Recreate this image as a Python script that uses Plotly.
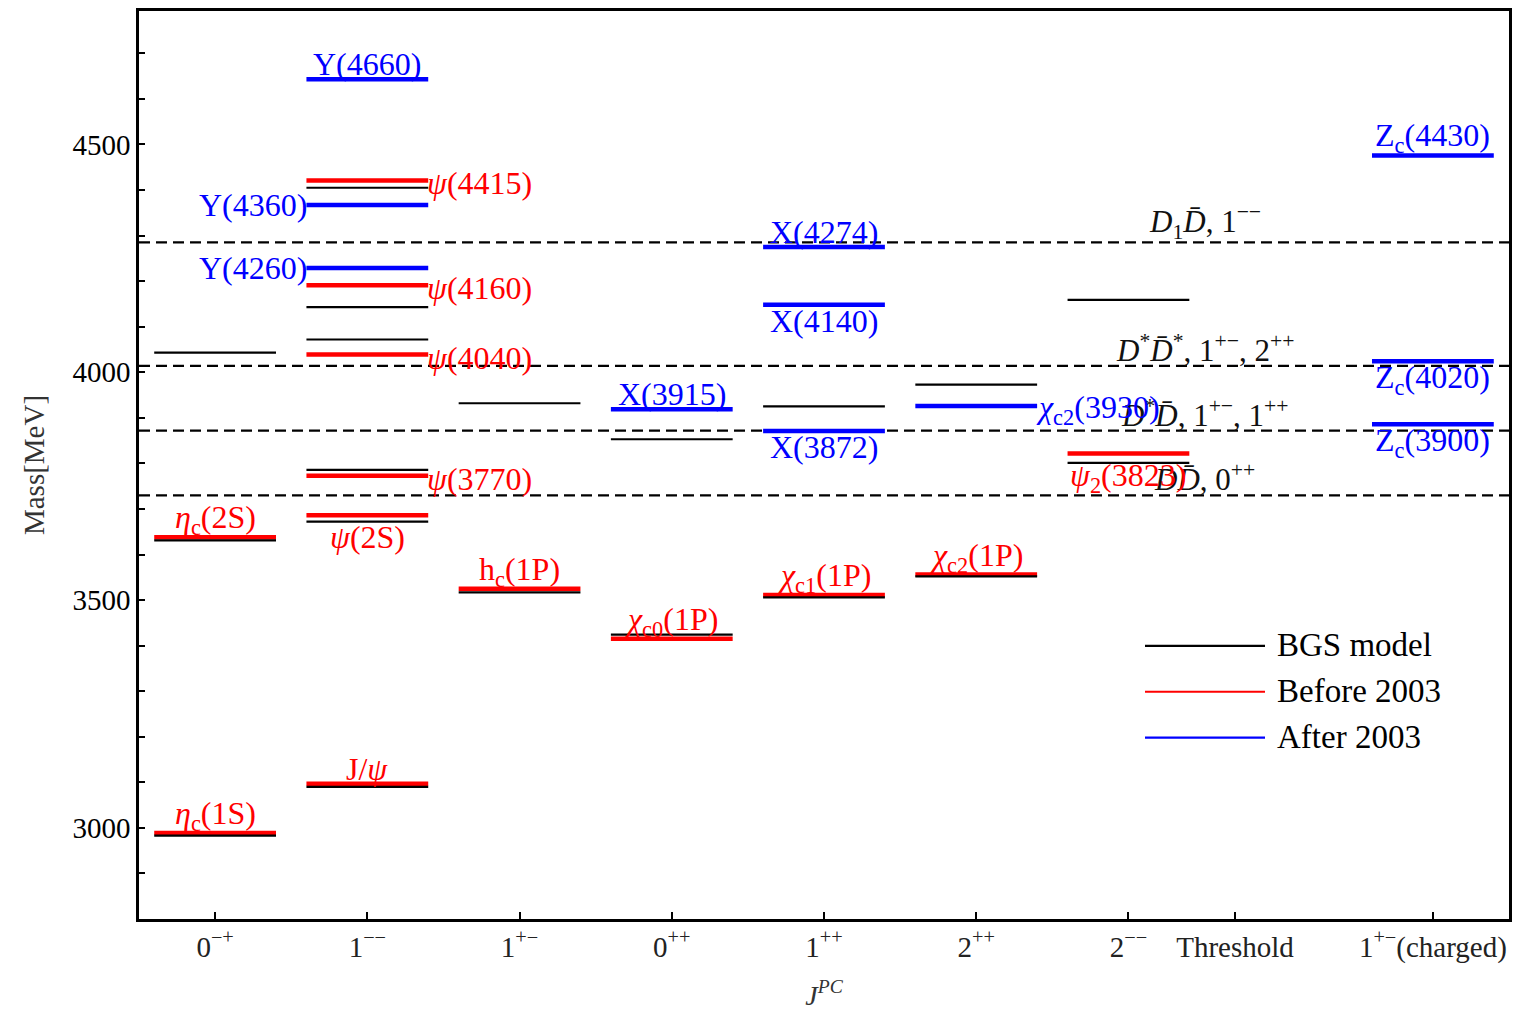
import plotly.graph_objects as go

# ---------------- data ----------------
tick_pos = [1, 2, 3, 4, 5, 6, 7, 7.7, 9]
tick_text = ["0<sup>−+</sup>", "1<sup>−−</sup>", "1<sup>+−</sup>", "0<sup>++</sup>", "1<sup>++</sup>",
             "2<sup>++</sup>", "2<sup>−−</sup>", "Threshold", "1<sup>+−</sup>(charged)"]

# BGS model (black)
bgs_x = [1, 1, 1, 2, 2, 2, 2, 2, 2, 3, 3, 4, 4, 5, 5, 6, 6, 7, 7]
bgs_m = [2983, 3631, 4043, 3090, 3672, 3786, 4072, 4143, 4405, 3517, 3932, 3424, 3853, 3506, 3925,
         3552, 3973, 3801, 4159]

# Before 2003 (red)
red_x = [1, 1, 2, 2, 2, 2, 2, 2, 3, 4, 5, 6, 7]
red_m = [2989, 3638, 3097, 3686, 3773, 4039, 4191, 4421, 3525, 3415, 3511, 3556, 3822]
red_lab = ["<i>η</i><sub>c</sub>(1S)", "<i>η</i><sub>c</sub>(2S)", "J/<i>ψ</i>", "<i>ψ</i>(2S)",
           "<i>ψ</i>(3770)", "<i>ψ</i>(4040)", "<i>ψ</i>(4160)", "<i>ψ</i>(4415)", "h<sub>c</sub>(1P)",
           "<i>χ</i><sub>c0</sub>(1P)", "<i>χ</i><sub>c1</sub>(1P)", "<i>χ</i><sub>c2</sub>(1P)",
           "<i>ψ</i><sub>2</sub>(3823)"]
red_pos = ["above", "above", "above", "below2", "right", "right", "right", "right", "above",
           "above", "above", "above", "below2"]

# After 2003 (blue)
blue_x = [2, 2, 2, 4, 5, 5, 5, 6, 9, 9, 9]
blue_m = [4643, 4367, 4229, 3919, 4275, 4148, 3871, 3926, 4476, 4024, 3886]
blue_lab = ["Y(4660)", "Y(4360)", "Y(4260)", "X(3915)", "X(4274)", "X(4140)", "X(3872)",
            "<i>χ</i><sub>c2</sub>(3930)", "Z<sub>c</sub>(4430)", "Z<sub>c</sub>(4020)", "Z<sub>c</sub>(3900)"]
blue_pos = ["above", "left", "left", "above", "above", "below", "below", "right", "above", "below", "below"]

# Thresholds (dashed)
thr_m = [3730, 3872, 4014, 4285]
thr_lab = ["<i>D</i><i>D̄</i>, 0<sup>++</sup>",
           "<i>D</i><sup>*</sup><i>D̄</i>, 1<sup>+−</sup>, 1<sup>++</sup>",
           "<i>D</i><sup>*</sup><i>D̄</i><sup>*</sup>, 1<sup>+−</sup>, 2<sup>++</sup>",
           "<i>D</i><sub>1</sub><i>D̄</i>, 1<sup>−−</sup>"]
thr_label_x = 7.5

legend_names = ["BGS model", "Before 2003", "After 2003"]
y_range = [2800, 4793]

# ---------------- style ----------------
FONT = "Liberation Serif"
HALF = 0.4
RED = "#ff0000"
BLUE = "#0000ff"
BLACK = "#000000"
LBL = 32


def segs(xs, ms):
    X, Y = [], []
    for c, m in zip(xs, ms):
        X += [c - HALF, c + HALF, None]
        Y += [m, m, None]
    return X, Y


fig = go.Figure()
for xs, ms, col, w, name in [(red_x, red_m, RED, 4.5, legend_names[1]),
                             (blue_x, blue_m, BLUE, 4.5, legend_names[2]),
                             (bgs_x, bgs_m, BLACK, 2.2, legend_names[0])]:
    X, Y = segs(xs, ms)
    fig.add_trace(go.Scatter(x=X, y=Y, mode="lines", line=dict(color=col, width=w),
                             name=name, showlegend=False, hoverinfo="skip"))

# thresholds
for m, lab in zip(thr_m, thr_lab):
    fig.add_shape(type="line", xref="paper", x0=0, x1=1, yref="y", y0=m, y1=m,
                  line=dict(color=BLACK, width=2.2, dash="11px,6px"), layer="below")
    fig.add_annotation(x=thr_label_x, y=m, text=lab, showarrow=False, xanchor="center",
                       yanchor="bottom", yshift=-4, font=dict(family=FONT, size=31, color="#111"))


def add_labels(xs, ms, labs, poss, col):
    for c, m, lab, p in zip(xs, ms, labs, poss):
        kw = dict(x=c, y=m, text=lab, showarrow=False,
                  font=dict(family=FONT, size=LBL, color=col))
        if p == "above":
            kw.update(xanchor="center", yanchor="bottom", yshift=-5)
        elif p == "below":
            kw.update(xanchor="center", yanchor="top", yshift=4)
        elif p == "below2":
            kw.update(xanchor="center", yanchor="top", yshift=-2)
        elif p == "right":
            kw.update(x=c + HALF, xanchor="left", yanchor="middle", xshift=-3, yshift=-3)
        elif p == "left":
            kw.update(x=c - HALF, xanchor="right", yanchor="middle", xshift=3, yshift=0)
        fig.add_annotation(**kw)


add_labels(red_x, red_m, red_lab, red_pos, RED)
add_labels(blue_x, blue_m, blue_lab, blue_pos, BLUE)

# custom legend (paper coordinates; plot area 1370 x 911 px)
PW, PH, PL, PB = 1370, 911, 139, 919
leg_x0, leg_x1, leg_tx = (1145 - PL) / PW, (1265 - PL) / PW, (1275 - PL) / PW
leg_y = [(PB - 645) / PH, (PB - 691) / PH, (PB - 737) / PH]
for name, col, ly in zip(legend_names, [BLACK, RED, BLUE], leg_y):
    fig.add_shape(type="line", xref="paper", yref="paper", x0=leg_x0, x1=leg_x1, y0=ly, y1=ly,
                  line=dict(color=col, width=2.2))
    fig.add_annotation(xref="paper", yref="paper", x=leg_tx, y=ly, text=name, showarrow=False,
                       xanchor="left", yanchor="middle", yshift=1,
                       font=dict(family=FONT, size=33, color=BLACK))

# page body has an 8px margin: figure is sized/offset to compensate
fig.update_layout(
    width=1532, height=1003,
    margin=dict(l=131, r=31, t=0, b=92),
    paper_bgcolor="white", plot_bgcolor="white",
    font=dict(family=FONT, size=29, color=BLACK),
    showlegend=False,
)
fig.update_xaxes(range=[0.5, 9.5], tickvals=tick_pos, ticktext=tick_text, ticks="inside",
                 ticklen=7, tickwidth=2, tickcolor=BLACK, showline=True, linewidth=2.5,
                 linecolor=BLACK, mirror=True, showgrid=False, zeroline=False,
                 tickfont=dict(family=FONT, size=29, color="#222"),
                 title=dict(text="<i>J</i><sup><i>PC</i></sup>", standoff=26,
                            font=dict(family=FONT, size=28, color="#333")))
fig.update_yaxes(range=y_range, tick0=3000, dtick=500, ticks="inside", ticklen=6,
                 tickwidth=2, tickcolor=BLACK, showline=True, linewidth=2.5, linecolor=BLACK,
                 mirror=True, showgrid=False, zeroline=False,
                 minor=dict(dtick=100, tick0=3000, ticks="inside", ticklen=6, tickwidth=2,
                            tickcolor=BLACK, showgrid=False),
                 tickfont=dict(family=FONT, size=29, color=BLACK),
                 title=dict(text="Mass[MeV]", standoff=20,
                            font=dict(family=FONT, size=29, color="#333")))

fig.write_html("out.html")
